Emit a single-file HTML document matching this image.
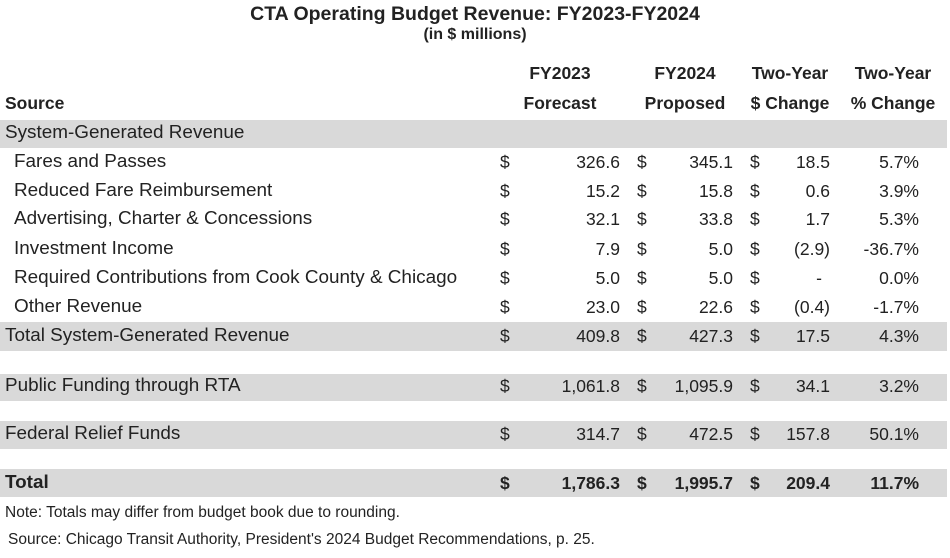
<!DOCTYPE html>
<html><head><meta charset="utf-8"><style>
body{margin:0;width:950px;height:558px;background:#fff;font-family:"Liberation Sans",sans-serif;color:#222;position:relative;overflow:hidden}
.a{position:absolute;white-space:nowrap;line-height:20px}
.band{position:absolute;left:0;width:947px;background:#d9d9d9}
.r{text-align:right}
.c{text-align:center}
.b{font-weight:bold}
.row{font-size:17.5px}
.lbl{font-size:18.9px}
</style></head><body>
<div class="a c b" style="left:0;width:950px;top:4px;font-size:19.5px">CTA Operating Budget Revenue: FY2023-FY2024</div>
<div class="a c b" style="left:0;width:950px;top:25px;font-size:16px">(in $ millions)</div>

<div class="a b row" style="left:5px;top:93px">Source</div>
<div class="a b row c" style="left:500px;width:120px;top:63px">FY2023<br><span style="display:inline-block;margin-top:10px">Forecast</span></div>
<div class="a b row c" style="left:625px;width:120px;top:63px">FY2024<br><span style="display:inline-block;margin-top:10px">Proposed</span></div>
<div class="a b row c" style="left:735px;width:110px;top:63px">Two-Year<br><span style="display:inline-block;margin-top:10px">$ Change</span></div>
<div class="a b row c" style="left:840px;width:106px;top:63px">Two-Year<br><span style="display:inline-block;margin-top:10px">% Change</span></div>

<div class="band" style="top:120px;height:28px"></div>
<div class="band" style="top:322px;height:29px"></div>
<div class="band" style="top:374px;height:27px"></div>
<div class="band" style="top:421px;height:28px"></div>
<div class="band" style="top:469px;height:28px"></div>

<div id="rows"></div>

<div class="a" style="left:5px;top:503px;font-size:15.5px">Note: Totals may differ from budget book due to rounding.</div>
<div class="a" style="left:8px;top:530px;font-size:15.5px">Source: Chicago Transit Authority, President's 2024 Budget Recommendations, p. 25.</div>

<script>
const labels=["System-Generated Revenue","Fares and Passes","Reduced Fare Reimbursement","Advertising, Charter & Concessions","Investment Income","Required Contributions from Cook County & Chicago","Other Revenue","Total System-Generated Revenue","Public Funding through RTA","Federal Relief Funds","Total"];
const fy2023=["","326.6","15.2","32.1","7.9","5.0","23.0","409.8","1,061.8","314.7","1,786.3"];
const fy2024=["","345.1","15.8","33.8","5.0","5.0","22.6","427.3","1,095.9","472.5","1,995.7"];
const dchg=["","18.5","0.6","1.7","(2.9)","-","(0.4)","17.5","34.1","157.8","209.4"];
const pchg=["","5.7%","3.9%","5.3%","-36.7%","0.0%","-1.7%","4.3%","3.2%","50.1%","11.7%"];
const ys=[133,162,191,219,249,278,307,336,386,434,483];
const indent=[0,1,1,1,1,1,1,0,0,0,0];
const root=document.getElementById('rows');
function mk(txt,left,width,y,cls,bold){
  const d=document.createElement('div');
  d.className='a row '+cls+(bold?' b':'');
  d.style.left=left+'px';if(width)d.style.width=width+'px';
  d.style.top=(y-10)+'px';
  d.textContent=txt;root.appendChild(d);return d;
}
labels.forEach((l,i)=>{
  const bold=i===10;const y=ys[i];
  const el=mk(l,indent[i]?14:5,0,y,'lbl',bold);
  
  
  if(i===0)return;
  [[500,fy2023,520,620],[637,fy2024,640,733],[750,dchg,760,830]].forEach(([dx,arr,l0,r0])=>{
    const s=mk('$',dx,0,y,'',bold);
    
    
    const v=mk(arr[i],l0,r0-l0,y,'r',bold);
    if(arr[i]==='-'){v.style.width=(r0-l0-8)+'px';}
    
    
  });
  const p=mk(pchg[i],840,79,y,'r',bold);
  
  
});
</script>
</body></html>
